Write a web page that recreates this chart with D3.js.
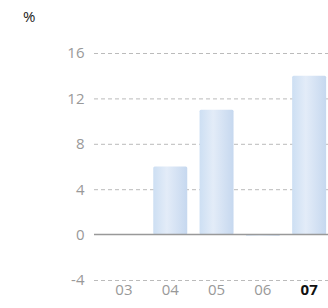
<!DOCTYPE html>
<html>
<head>
<meta charset="utf-8">
<script src="https://cdn.jsdelivr.net/npm/d3@7"></script>
<style>
  body { margin: 0; background: #fff; }
  svg { display: block; }
  svg text { font-family: "Open Sans", sans-serif; }
</style>
</head>
<body>
<div id="chart"></div>
<script>
// years and growth in %
const years = ["03", "04", "05", "06", "07"];
const values = [0, 6, 11, -0.1, 14];
const yTicks = [-4, 0, 4, 8, 12, 16];
const currentYear = "07";

const width = 328,
      height = 308,
      margin = { top: 53, right: 0, bottom: 28, left: 94 };

let svg = d3.select("#chart")
    .append("svg")
    .attr("width", width)
    .attr("height", height);

// bar gradient, darker at the edges
let grad = svg.append("defs").append("linearGradient")
    .attr("id", "barGrad")
    .attr("x1", "0%").attr("x2", "100%");
grad.append("stop").attr("offset", "0%").attr("stop-color", "#cddff3");
grad.append("stop").attr("offset", "40%").attr("stop-color", "#e3ecf8");
grad.append("stop").attr("offset", "100%").attr("stop-color", "#c6d8ef");

let y = d3.scaleLinear()
    .domain([-4, 16])
    .range([280, margin.top]);

let x = d3.scaleBand()
    .domain(years)
    .range([100.8, 332.3])
    .paddingInner(0.266)
    .paddingOuter(0.133);

// gridlines + y labels
let yAxis = svg.append("g")
    .attr("transform", `translate(${margin.left},0)`)
    .call(d3.axisLeft(y).tickValues(yTicks).tickSize(0).tickPadding(9.5)
        .tickFormat(d => String(d)));
yAxis.select(".domain").remove();
yAxis.selectAll("text")
    .style("font-size", "15px")
    .attr("fill", "#999");

svg.append("g")
  .selectAll("line")
  .data(yTicks.filter(d => d !== 0))
  .join("line")
    .attr("x1", margin.left)
    .attr("x2", width)
    .attr("y1", d => y(d) + 0.5)
    .attr("y2", d => y(d) + 0.5)
    .attr("stroke", "#bbb")
    .attr("stroke-dasharray", "4,3");

// bars
svg.append("g")
  .selectAll("rect")
  .data(values)
  .join("rect")
    .attr("x", (d, i) => x(years[i]))
    .attr("width", x.bandwidth())
    .attr("y", d => y(Math.max(0, d)))
    .attr("height", d => Math.abs(y(d) - y(0)))
    .attr("rx", 1.5)
    .attr("fill", "url(#barGrad)");

// zero line
svg.append("line")
    .attr("x1", margin.left)
    .attr("x2", width)
    .attr("y1", y(0))
    .attr("y2", y(0))
    .attr("stroke", "#999")
    .attr("stroke-width", 1.5);

// x labels
let xAxis = svg.append("g")
    .attr("transform", `translate(0,${height - 24})`)
    .call(d3.axisBottom(x).tickSize(0).tickPadding(0));
xAxis.select(".domain").remove();
xAxis.selectAll("text")
    .style("font-size", "15px")
    .attr("fill", d => d === currentYear ? "#111" : "#999")
    .style("font-weight", d => d === currentYear ? "bold" : "normal");

// unit label
svg.append("text")
    .attr("x", 23)
    .attr("y", 22)
    .style("font-size", "15px")
    .attr("fill", "#222")
    .text("%");
</script>
</body>
</html>
